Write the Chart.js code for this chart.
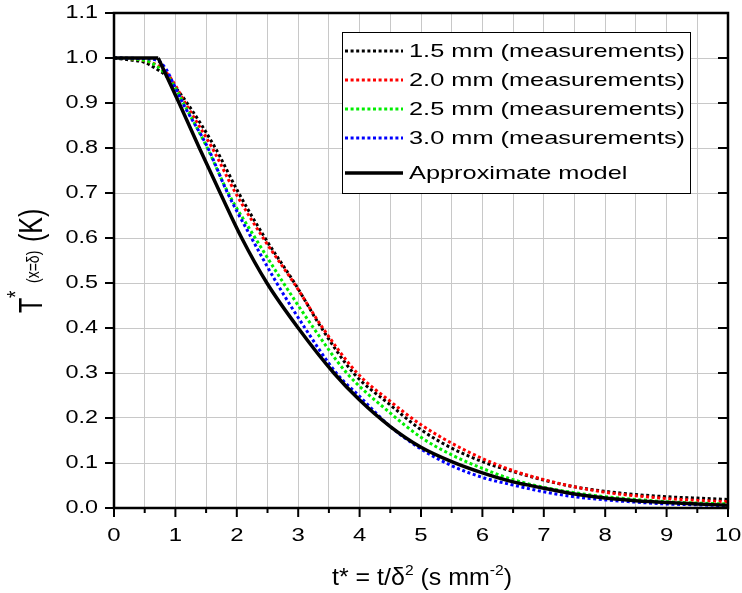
<!DOCTYPE html>
<html><head><meta charset="utf-8">
<script src="https://cdn.jsdelivr.net/npm/chart.js@4"></script>
<style>html,body{margin:0;padding:0;background:#fff}</style>
</head><body>
<canvas id="c" width="742" height="593"></canvas>
<script>
// ---- data ----
const seriesNames = ['1.5 mm (measurements)', '2.0 mm (measurements)', '2.5 mm (measurements)', '3.0 mm (measurements)', 'Approximate model'];
const seriesColors = ['#000000', '#ff0000', '#00ee00', '#0000ff', '#000000'];

const t15 = [0, 0.3, 0.5, 0.7, 0.85, 0.97, 1.19, 1.65, 2.03, 2.46, 2.94, 3.38, 3.9, 4.5, 5, 5.5, 6, 6.5, 7, 7.5, 8, 8.5, 9, 9.5, 10];
const T15 = [1.0, 0.995, 0.99, 0.975, 0.96, 0.94, 0.9, 0.8, 0.7, 0.6, 0.5, 0.4, 0.3, 0.229, 0.174, 0.133, 0.103, 0.081, 0.062, 0.047, 0.037, 0.030, 0.025, 0.022, 0.019];

const t20 = [0, 0.3, 0.6, 0.8, 0.95, 1.16, 1.6, 1.98, 2.43, 2.93, 3.4, 3.96, 4.5, 5, 5.5, 6, 6.5, 7, 7.5, 8, 8.5, 9, 9.5, 10];
const T20 = [1.0, 0.998, 0.99, 0.975, 0.95, 0.9, 0.8, 0.7, 0.6, 0.5, 0.4, 0.3, 0.237, 0.185, 0.144, 0.11, 0.083, 0.063, 0.047, 0.035, 0.027, 0.021, 0.017, 0.014];

const t25 = [0, 0.3, 0.6, 0.8, 0.95, 1.13, 1.52, 1.86, 2.3, 2.76, 3.25, 3.79, 4.5, 5, 5.5, 6, 6.5, 7, 7.5, 8, 8.5, 9, 9.5, 10];
const T25 = [1.0, 0.998, 0.99, 0.97, 0.945, 0.9, 0.8, 0.7, 0.6, 0.5, 0.4, 0.3, 0.211, 0.157, 0.118, 0.088, 0.063, 0.046, 0.034, 0.025, 0.019, 0.014, 0.011, 0.009];

const t30 = [0, 0.4, 0.7, 0.85, 0.96, 1.12, 1.53, 1.85, 2.24, 2.65, 3.11, 3.62, 4.0, 4.5, 5, 5.5, 6, 6.5, 7, 7.5, 8, 8.5, 9, 9.5, 10];
const T30 = [1.0, 0.999, 0.995, 0.975, 0.945, 0.9, 0.8, 0.7, 0.6, 0.5, 0.4, 0.3, 0.248, 0.181, 0.131, 0.094, 0.068, 0.051, 0.036, 0.025, 0.018, 0.013, 0.009, 0.007, 0.005];

const tModel = [0, 0.72, 1.06, 1.39, 1.73, 2.08, 2.49, 3.0, 3.58, 4.0, 4.5, 5, 5.5, 6, 6.5, 7, 7.5, 8, 8.5, 9, 9.5, 10];
const TModel = [1.0, 1.0, 0.9, 0.8, 0.7, 0.6, 0.5, 0.4, 0.3, 0.24, 0.181, 0.135, 0.103, 0.078, 0.058, 0.044, 0.031, 0.022, 0.016, 0.012, 0.009, 0.006];

// ---- ticks ----
const xMajorValues = [0, 1, 2, 3, 4, 5, 6, 7, 8, 9, 10];
const xTickLabels = ['0', '1', '2', '3', '4', '5', '6', '7', '8', '9', '10'];
const xMinorValues = [0.5, 1.5, 2.5, 3.5, 4.5, 5.5, 6.5, 7.5, 8.5, 9.5];
const yMajorValues = [0, 0.1, 0.2, 0.3, 0.4, 0.5, 0.6, 0.7, 0.8, 0.9, 1.0, 1.1];
const yTickLabels = ['0.0', '0.1', '0.2', '0.3', '0.4', '0.5', '0.6', '0.7', '0.8', '0.9', '1.0', '1.1'];

const pts = (xs, ys) => xs.map((v, i) => ({x: v, y: ys[i]}));

const measured = [[t15, T15], [t20, T20], [t25, T25], [t30, T30]];
const datasets = measured.map((s, i) => ({
  label: seriesNames[i],
  data: pts(s[0], s[1]),
  borderColor: seriesColors[i],
  borderWidth: 3,
  borderDash: [3, 2.6],
  borderCapStyle: 'butt',
  cubicInterpolationMode: 'monotone',
  pointRadius: 0,
  order: 1 + (3 - i)
}));
// plateau of the model (sharp corner), and decaying part
datasets.push({
  label: seriesNames[4] + ' plateau',
  data: pts(tModel.slice(0, 2), TModel.slice(0, 2)),
  borderColor: seriesColors[4], borderWidth: 3.5, tension: 0, pointRadius: 0, order: 0
});
datasets.push({
  label: seriesNames[4],
  data: pts(tModel.slice(1), TModel.slice(1)),
  borderColor: seriesColors[4], borderWidth: 3.5, cubicInterpolationMode: 'monotone', pointRadius: 0, order: 0
});

const FONT = '"Liberation Sans", Arial, sans-serif';
function sText(ctx, txt, x, y, size, align, sx, base) {
  ctx.save();
  ctx.translate(x, y);
  ctx.scale(sx, 1);
  ctx.font = size + 'px ' + FONT;
  ctx.textAlign = align;
  ctx.textBaseline = base || 'middle';
  ctx.fillStyle = '#000';
  ctx.fillText(txt, 0, 0);
  ctx.restore();
}

const decor = {
  id: 'decor',
  afterDraw(chart) {
    const {ctx, chartArea: a, scales: {x, y}} = chart;
    ctx.save();
    ctx.strokeStyle = '#000';
    ctx.lineWidth = 2;
    ctx.beginPath();
    xMajorValues.forEach(v => { const p = x.getPixelForValue(v); ctx.moveTo(p, a.bottom); ctx.lineTo(p, a.bottom + 9); });
    xMinorValues.forEach(v => { const p = x.getPixelForValue(v); ctx.moveTo(p, a.bottom); ctx.lineTo(p, a.bottom + 5); });
    yMajorValues.forEach(v => {
      const p = y.getPixelForValue(v);
      ctx.moveTo(a.left - 9, p); ctx.lineTo(a.left, p);
      ctx.moveTo(a.right - 10, p); ctx.lineTo(a.right, p);
    });
    ctx.stroke();
    ctx.lineWidth = 2.5;
    ctx.strokeRect(a.left, a.top, a.right - a.left, a.bottom - a.top);

    // tick labels
    xMajorValues.forEach((v, i) => sText(ctx, xTickLabels[i], x.getPixelForValue(v), a.bottom + 28, 18, 'center', 1.33));
    yMajorValues.forEach((v, i) => sText(ctx, yTickLabels[i], a.left - 16, y.getPixelForValue(v), 18, 'right', 1.3));

    // legend
    const lx = a.left + 228, ly = a.top + 19, lw = 348, lh = 161;
    ctx.fillStyle = '#fff';
    ctx.fillRect(lx, ly, lw, lh);
    ctx.lineWidth = 1;
    ctx.strokeStyle = '#000';
    ctx.strokeRect(lx + 0.5, ly + 0.5, lw, lh);
    const rowY = [19, 48, 77, 106, 141];
    for (let i = 0; i < 5; i++) {
      const ry = ly + rowY[i];
      ctx.save();
      ctx.strokeStyle = seriesColors[i];
      if (i < 4) { ctx.lineWidth = 3; ctx.setLineDash([3, 2.6]); } else { ctx.lineWidth = 3.5; }
      ctx.beginPath(); ctx.moveTo(lx + 3, ry); ctx.lineTo(lx + 61, ry); ctx.stroke();
      ctx.restore();
      sText(ctx, seriesNames[i], lx + 67, ry + 1, 18.5, 'left', 1.37);
    }

    // x title: t* = t/δ² (s mm⁻²)
    const parts = [['t* = t/\u03b4', 24, 0], ['2', 15, -10], [' (s mm', 24, 0], ['-2', 15, -10], [')', 24, 0]];
    let w = 0;
    parts.forEach(p => { ctx.font = p[1] + 'px ' + FONT; w += ctx.measureText(p[0]).width; });
    const sx = 1.04;
    let cx = (a.left + a.right) / 2 + 1 - w * sx / 2;
    const by = 585;
    parts.forEach(p => {
      sText(ctx, p[0], cx, by + p[2], p[1], 'left', sx, 'alphabetic');
      ctx.font = p[1] + 'px ' + FONT;
      cx += ctx.measureText(p[0]).width * sx;
    });

    // y title: T*(x=δ) (K)
    ctx.save();
    ctx.translate(42, 313);
    ctx.rotate(-Math.PI / 2);
    ctx.scale(1, 1.3);
    ctx.fillStyle = '#000';
    ctx.textBaseline = 'alphabetic';
    ctx.textAlign = 'left';
    ctx.font = '25px ' + FONT; ctx.fillText('T', 0, 0);
    ctx.font = '19px ' + FONT; ctx.fillText('*', 15, -18 / 1.3);
    ctx.font = '14px ' + FONT; ctx.fillText('(x=\u03b4)', 30, -3 / 1.3);
    ctx.font = '25px ' + FONT; ctx.fillText('(K)', 71, 0);
    ctx.restore();
    ctx.restore();
  }
};

new Chart(document.getElementById('c'), {
  type: 'line',
  data: {datasets},
  options: {
    responsive: false,
    devicePixelRatio: 1,
    animation: false,
    layout: {padding: {top: 13, right: 14, left: 0, bottom: 0}},
    plugins: {legend: {display: false}, tooltip: {enabled: false}},
    scales: {
      x: {
        type: 'linear', min: 0, max: 10,
        afterBuildTicks: s => { s.ticks = xMajorValues.concat(xMinorValues).sort((p, q) => p - q).map(v => ({value: v})); },
        afterFit: s => { s.height = 85; },
        ticks: {display: false},
        grid: {color: '#c8c8c8', lineWidth: 1, drawTicks: false},
        border: {display: false}
      },
      y: {
        type: 'linear', min: 0, max: 1.1,
        afterBuildTicks: s => { s.ticks = yMajorValues.map(v => ({value: v})); },
        afterFit: s => { s.width = 114; },
        ticks: {display: false},
        grid: {color: '#c8c8c8', lineWidth: 1, drawTicks: false},
        border: {display: false}
      }
    }
  },
  plugins: [decor]
});
</script>
</body></html>
